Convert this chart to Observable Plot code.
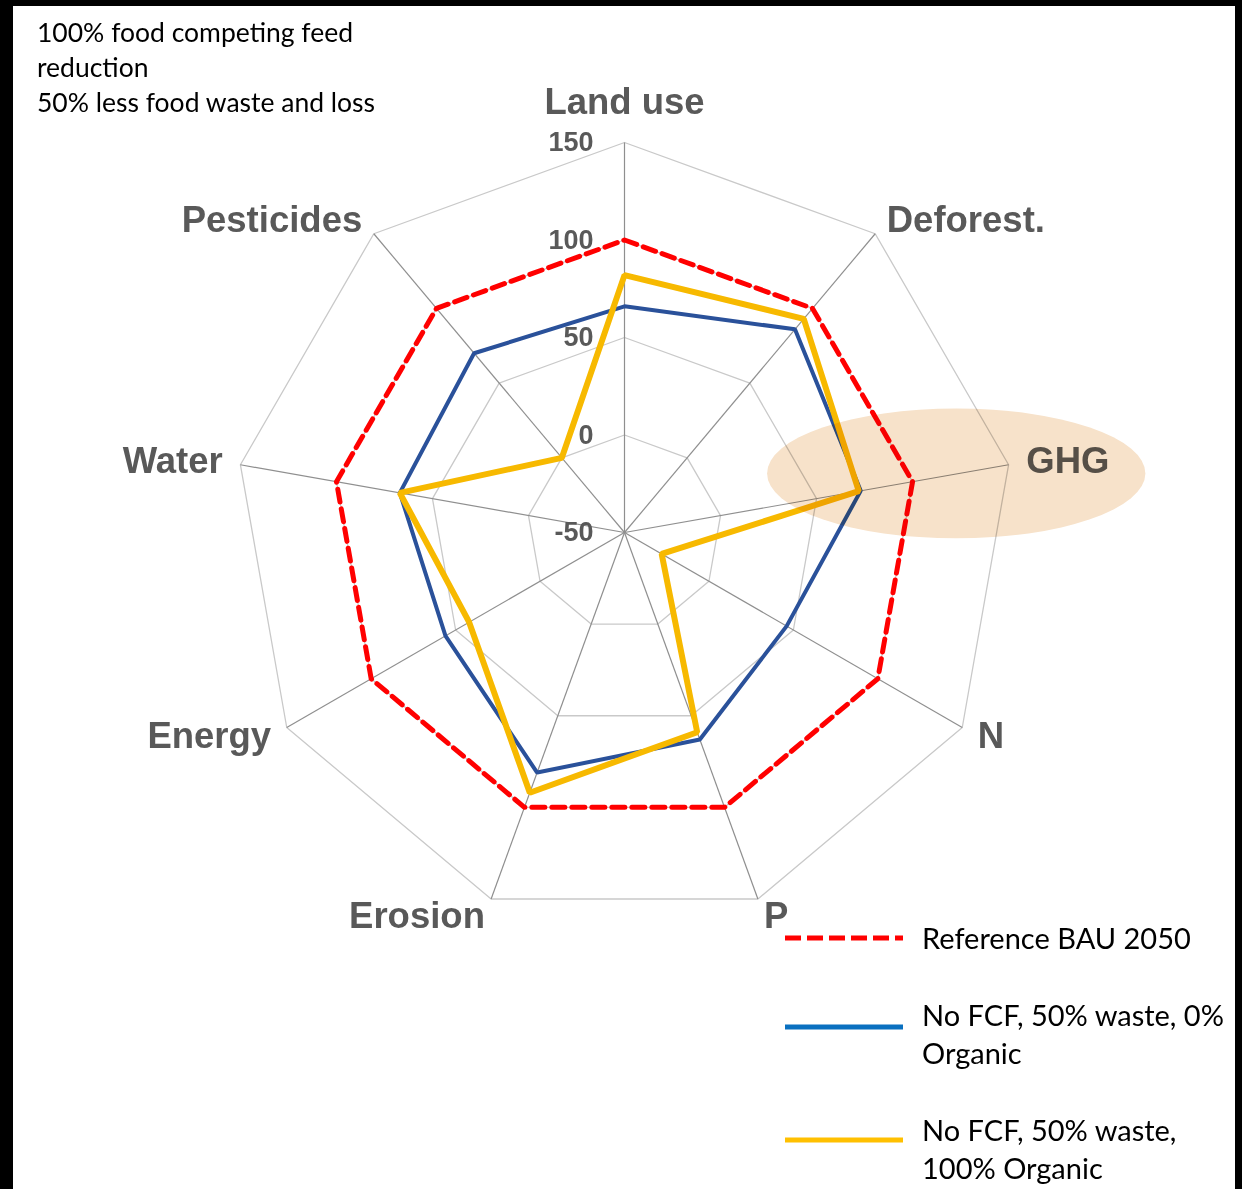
<!DOCTYPE html>
<html>
<head>
<meta charset="utf-8">
<script src="https://cdn.jsdelivr.net/npm/d3@7"></script>
<script src="https://cdn.jsdelivr.net/npm/@observablehq/plot@0.6"></script>
<style>
  html, body { margin: 0; padding: 0; background: #000; }
  body { width: 1242px; height: 1189px; position: relative; overflow: hidden; }
  #chart { position: absolute; left: 13px; top: 6px; width: 1222px; height: 1183px; background: #fff; }
  #note { position: absolute; left: 37px; top: 15px; font-family: Lato, "Open Sans", sans-serif; font-size: 26.5px; line-height: 35px; color: #000; }
  .leg { position: absolute; left: 785px; font-family: Lato, "Open Sans", sans-serif; font-size: 29px; line-height: 38px; color: #000; }
  .leg svg { position: absolute; left: 0; }
  .leg .t { position: absolute; left: 137px; white-space: nowrap; }
</style>
</head>
<body>
<div id="chart"></div>
<div id="note">100% food competing feed<br>reduction<br>50% less food waste and loss</div>
<div id="legend"></div>
<script>
// ---- data ----
const axes = ["Land use", "Deforest.", "GHG", "N", "P", "Erosion", "Energy", "Water", "Pesticides"];
const tickValues = [-50, 0, 50, 100, 150];
const ringValues = [0, 50, 100, 150];
const seriesNames = ["Reference BAU 2050", "No FCF, 50% waste, 0% Organic", "No FCF, 50% waste, 100% Organic"];
const reference = [100, 100, 100, 100, 100, 100, 100, 100, 100];
const noOrganic = [66, 86, 73, 46, 63, 81, 56, 67, 70];
const organic   = [82, 93, 72, -28, 59, 92, 42, 67, 0];
const highlightAxis = "GHG";

// ---- geometry helpers ----
const vMin = -50, vMax = 150;
const k = 1.95;                    // px per unit
const W = 1222, H = 1183, cx = 611, cy = 526;
const ang = i => i * 2 * Math.PI / axes.length;
const px = (i, v) => (v - vMin) * Math.sin(ang(i));
const py = (i, v) => (v - vMin) * Math.cos(ang(i));

const ringRows = ringValues.flatMap(v => axes.map((a, i) => ({ring: v, i})));
const rowsOf = (vals, s) => vals.map((v, i) => ({series: s, i, v}));
const refRows = rowsOf(reference, seriesNames[0]);
const blueRows = rowsOf(noOrganic, seriesNames[1]);
const yellowRows = rowsOf(organic, seriesNames[2]);

const labelR = (vMax - vMin) + 18 / k;
const labelRows = axes.map((a, i) => ({a, i, s: Math.sin(ang(i))}));
const lx = d => labelR * Math.sin(ang(d.i));
const ly = d => labelR * Math.cos(ang(d.i));
const labelStyle = {fontSize: 36.5, fontWeight: "bold", fill: "#595959", fontFamily: "Liberation Sans, Arial, sans-serif", text: "a", x: lx, y: ly};

const ellipseMark = (index, scales) => {
  const i = axes.indexOf(highlightAxis);
  const u = 123;         // value where the highlight is centred on the axis
  const rxU = 97, ryU = 33.3;
  const x0 = scales.x(px(i, u)), y0 = scales.y(py(i, u));
  const rx = scales.x(rxU) - scales.x(0);
  const ry = scales.y(0) - scales.y(ryU);
  const e = d3.create("svg:ellipse")
    .attr("cx", x0).attr("cy", y0).attr("rx", rx).attr("ry", ry)
    .attr("fill", "#f7e2ca")
    .style("mix-blend-mode", "multiply");
  return e.node();
};

const plot = Plot.plot({
  width: W, height: H,
  margin: 0,
  style: {background: "transparent"},
  x: {domain: [-cx / k, (W - cx) / k], axis: null},
  y: {domain: [-(H - cy) / k, cy / k], axis: null},
  marks: [
    Plot.line(ringRows, {x: d => px(d.i, d.ring), y: d => py(d.i, d.ring), z: "ring", curve: "linear-closed", stroke: "#c9c9c9", strokeWidth: 1.3}),
    Plot.link(axes.map((a, i) => i), {x1: 0, y1: 0, x2: i => px(i, vMax), y2: i => py(i, vMax), stroke: "#8f8f8f", strokeWidth: 1.2}),
    Plot.line(refRows, {x: d => px(d.i, d.v), y: d => py(d.i, d.v), curve: "linear-closed", stroke: "#ff0000", strokeWidth: 5, strokeDasharray: "13,7"}),
    Plot.line(blueRows, {x: d => px(d.i, d.v), y: d => py(d.i, d.v), curve: "linear-closed", stroke: "#2a519a", strokeWidth: 4, strokeLinejoin: "miter"}),
    Plot.line(yellowRows, {x: d => px(d.i, d.v), y: d => py(d.i, d.v), curve: "linear-closed", stroke: "#f7b900", strokeWidth: 6, strokeLinejoin: "miter"}),
    Plot.text(tickValues, {x: 0, y: d => d - vMin, text: d => String(d), textAnchor: "end", dx: -31, fontSize: 27, fontWeight: "bold", fill: "#595959", fontFamily: "Liberation Sans, Arial, sans-serif"}),
    Plot.text(labelRows.filter(d => d.s > 0.2), {...labelStyle, textAnchor: "start", lineAnchor: "middle"}),
    Plot.text(labelRows.filter(d => d.s < -0.2), {...labelStyle, textAnchor: "end", lineAnchor: "middle"}),
    Plot.text(labelRows.filter(d => Math.abs(d.s) <= 0.2), {...labelStyle, textAnchor: "middle", lineAnchor: "bottom", dy: -11}),
    ellipseMark
  ]
});
document.getElementById("chart").appendChild(plot);

// ---- legend ----
const legendItems = [
  {name: seriesNames[0], lines: ["Reference BAU 2050"], color: "#ff0000", dash: "16,6", top: 938, textTop: 919},
  {name: seriesNames[1], lines: ["No FCF, 50% waste, 0%", "Organic"], color: "#0a70c0", dash: null, top: 1027, textTop: 996},
  {name: seriesNames[2], lines: ["No FCF, 50% waste,", "100% Organic"], color: "#ffc000", dash: null, top: 1140, textTop: 1111}
];
const legend = document.getElementById("legend");
legendItems.forEach(it => {
  const d = document.createElement("div");
  d.className = "leg";
  d.style.top = "0px";
  const sw = d3.create("svg").attr("width", 118).attr("height", 10)
    .style("top", (it.top - 5) + "px");
  sw.append("line").attr("x1", 0).attr("x2", 118).attr("y1", 5).attr("y2", 5)
    .attr("stroke", it.color).attr("stroke-width", 5)
    .attr("stroke-dasharray", it.dash);
  d.appendChild(sw.node());
  const t = document.createElement("div");
  t.className = "t";
  t.style.top = it.textTop + "px";
  t.innerHTML = it.lines.join("<br>");
  d.appendChild(t);
  legend.appendChild(d);
});
</script>
</body>
</html>
